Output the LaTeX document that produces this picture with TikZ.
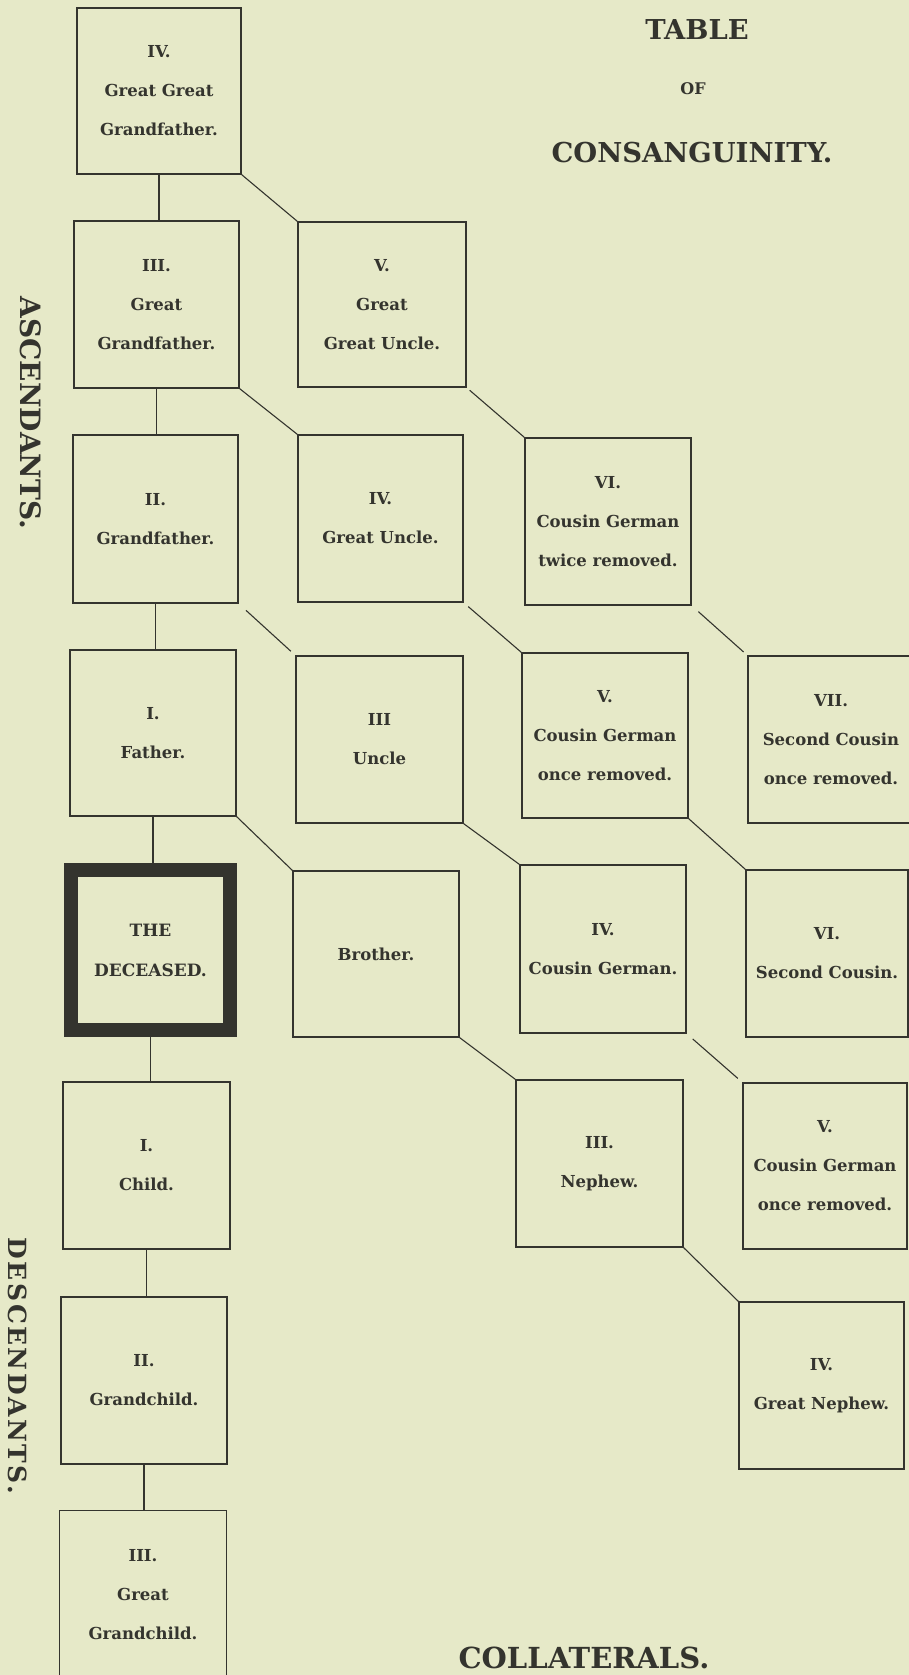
\documentclass[tikz,border=0pt]{standalone}
\usepackage{fontspec}
\setmainfont{DejaVu Serif}
\newfontfamily\spacedfont[LetterSpace=10]{DejaVu Serif}
\definecolor{paper}{HTML}{E6E9C8}
\definecolor{ink}{HTML}{34342E}
\begin{document}
\begin{tikzpicture}[x=1pt,y=-1pt,
  box/.style={draw=ink, line width=1.3pt, rectangle, align=center, text=ink,
    font=\bfseries\fontsize{16.5}{39}\selectfont, inner sep=0pt},
  openbox/.style={box, draw=none},
  deceasedbox/.style={box, line width=14pt, font=\bfseries\fontsize{17}{40}\selectfont},
  conn/.style={draw=ink, line width=1.1pt},
  heading/.style={text=ink, inner sep=0pt, font=\bfseries\fontsize{27.4}{30}\selectfont},
  sidelabel/.style={text=ink, inner sep=0pt, rotate=-90}]
\fill[paper] (0,0) rectangle (909,1675);
\useasboundingbox (0,0) rectangle (909,1675);

% titles
\node[heading] (t1) at (697,30) {TABLE};
\node[heading, font=\bfseries\fontsize{16}{18}\selectfont] (t2) at (693,89) {OF};
\node[heading] (t3) at (692,153) {CONSANGUINITY.};
\node[heading, font=\bfseries\fontsize{29}{32}\selectfont, anchor=base] (t4) at (584,1668) {COLLATERALS.};
\node[sidelabel, font=\bfseries\fontsize{28}{30}\selectfont] (asc) at (31,413) {ASCENDANTS.};
\node[sidelabel, font=\spacedfont\bfseries\fontsize{25}{30}\selectfont] (desc) at (18,1366) {DESCENDANTS.};

% column 1
\node[box, minimum width=164pt, minimum height=166pt] (ggf) at (159,91) {IV.\\Great Great\\Grandfather.};
\node[box, minimum width=165pt, minimum height=167pt] (gf3) at (156.5,304.5) {III.\\Great\\Grandfather.};
\node[box, minimum width=165pt, minimum height=168pt] (gfa) at (155.5,519) {II.\\Grandfather.};
\node[box, minimum width=166pt, minimum height=166pt] (fa) at (153,733) {I.\\Father.};
\node[deceasedbox, minimum width=159pt, minimum height=160pt] (dec) at (150.5,950) {THE\\DECEASED.};
\node[box, minimum width=167pt, minimum height=167pt] (ch) at (146.5,1165.5) {I.\\Child.};
\node[box, minimum width=166pt, minimum height=167pt] (gc) at (144,1380.5) {II.\\Grandchild.};
\node[openbox, minimum width=166pt, minimum height=168pt] (ggc) at (143,1595) {III.\\Great\\Grandchild.};
\draw[conn, line width=1.3pt] (ggc.south west) -- (ggc.north west) -- (ggc.north east) -- (ggc.south east);

% column 2
\node[box, minimum width=168pt, minimum height=165pt] (ggu) at (382,304.5) {V.\\Great\\Great Uncle.};
\node[box, minimum width=165pt, minimum height=167pt] (gu) at (380.5,518.5) {IV.\\Great Uncle.};
\node[box, minimum width=167pt, minimum height=167pt] (un) at (379.5,739.5) {III\\Uncle};
\node[box, minimum width=166pt, minimum height=166pt] (br) at (376,954) {Brother.};

% column 3
\node[box, minimum width=166pt, minimum height=167pt] (ctr) at (608,521.5) {VI.\\Cousin German\\twice removed.};
\node[box, minimum width=166pt, minimum height=165pt] (cgo) at (605,735.5) {V.\\Cousin German\\once removed.};
\node[box, minimum width=166pt, minimum height=168pt] (cg) at (603,949) {IV.\\Cousin German.};
\node[box, minimum width=167pt, minimum height=167pt] (ne) at (599.5,1163.5) {III.\\Nephew.};

% column 4
\node[box, minimum width=166pt, minimum height=167pt] (sco) at (831,739.5) {VII.\\Second Cousin\\once removed.};
\node[box, minimum width=162pt, minimum height=167pt] (sc) at (827,953.5) {VI.\\Second Cousin.};
\node[box, minimum width=164pt, minimum height=166pt] (cgl) at (825,1166) {V.\\Cousin German\\once removed.};
\node[box, minimum width=165pt, minimum height=167pt] (gn) at (821.5,1385.5) {IV.\\Great Nephew.};

% vertical line of descent
\draw[conn] (ggf.south) -- (ggf.south |- gf3.north);
\draw[conn] (gf3.south) -- (gf3.south |- gfa.north);
\draw[conn] (gfa.south) -- (gfa.south |- fa.north);
\draw[conn] (fa.south) -- (fa.south |- dec.north);
\draw[conn] (dec.south) -- (dec.south |- ch.north);
\draw[conn] (ch.south) -- (ch.south |- gc.north);
\draw[conn] (gc.south) -- (gc.south |- ggc.north);

% collateral lines
\draw[conn] (ggf.south east) -- (ggu.north west);
\draw[conn] (gf3.south east) -- (gu.north west);
\draw[conn, shorten <=4pt] (ggu.south east) -- (ctr.north west);
\draw[conn, shorten <=10pt, shorten >=6pt] (gfa.south east) -- (un.north west);
\draw[conn, shorten <=6pt] (gu.south east) -- (cgo.north west);
\draw[conn, shorten <=9pt, shorten >=5pt] (ctr.south east) -- (sco.north west);
\draw[conn] (fa.south east) -- (br.north west);
\draw[conn] (un.south east) -- (cg.north west);
\draw[conn] (cgo.south east) -- (sc.north west);
\draw[conn] (br.south east) -- (ne.north west);
\draw[conn, shorten <=8pt, shorten >=6pt] (cg.south east) -- (cgl.north west);
\draw[conn] (ne.south east) -- (gn.north west);
\end{tikzpicture}
\end{document}
